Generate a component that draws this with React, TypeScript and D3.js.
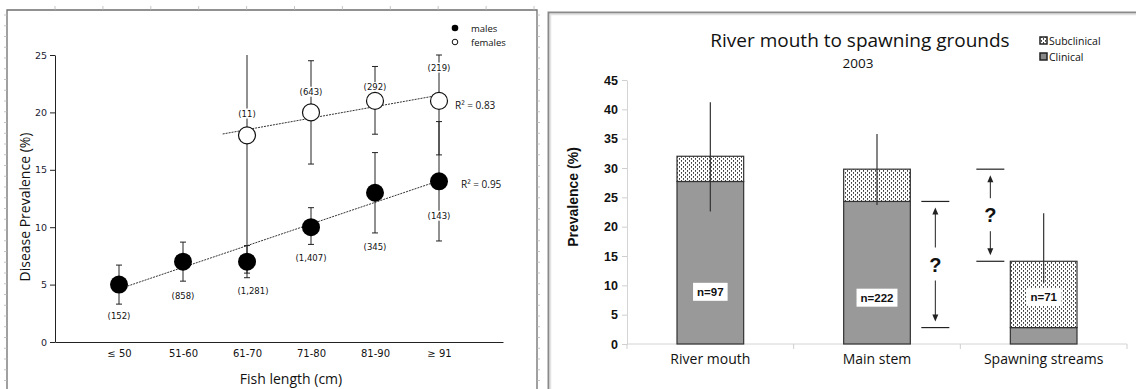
import React, { useRef, useEffect } from "react";
import * as d3 from "d3";

// left panel: disease prevalence by fish length
const lengthClasses = ["≤ 50", "51-60", "61-70", "71-80", "81-90", "≥ 91"];
const maleValues = [5, 7, 7, 10, 13, 14];
const maleLow = [3.3, 5.3, 5.6, 8.5, 9.5, 8.8];
const maleHigh = [6.7, 8.7, 8.4, 11.7, 16.5, 19.2];
const maleCounts = ["(152)", "(858)", "(1,281)", "(1,407)", "(345)", "(143)"];
const maleCountAt = [2.3, 4.0, 4.4, 7.3, 8.3, 11.0];

const femaleClasses = ["61-70", "71-80", "81-90", "≥ 91"];
const femaleValues = [18, 20, 21, 21];
const femaleLow = [6.0, 15.5, 18.1, 16.3];
const femaleHigh = [27, 24.5, 24.0, 25.0];
const femaleCounts = ["(11)", "(643)", "(292)", "(219)"];
const femaleCountAt = [19.9, 21.8, 22.2, 23.9];

const prevalenceTicks = [0, 5, 10, 15, 20, 25];

// right panel: river mouth to spawning grounds, 2003
const sites = ["River mouth", "Main stem", "Spawning streams"];
const clinical = [27.7, 24.3, 2.8];
const subclinical = [4.3, 5.5, 11.3];
const siteLow = [22.6, 23.7, 10.4];
const siteHigh = [41.2, 35.8, 22.3];
const siteN = ["n=97", "n=222", "n=71"];
const siteNAt = [8.9, 7.9, 8.0];
const siteTicks = [0, 5, 10, 15, 20, 25, 30, 35, 40, 45];

const sans = "'Open Sans', 'DejaVu Sans', sans-serif";
const small = "'DejaVu Sans', sans-serif";
const arial = "'Liberation Sans', Arial, sans-serif";

function fit(xs: number[], ys: number[]) {
  const mx = d3.mean(xs)!;
  const my = d3.mean(ys)!;
  const sxy = d3.sum(xs, (x, i) => (x - mx) * (ys[i] - my));
  const sxx = d3.sum(xs, (x) => (x - mx) ** 2);
  const b = sxy / sxx;
  return (x: number) => my + b * (x - mx);
}

// text with a white box behind it
function boxedText(g: any, x: number, y: number, label: string, font: string, size: number, weight: string, pad: number[]) {
  const grp = g.append("g");
  const rect = grp.append("rect").attr("fill", "#fff");
  const t = grp
    .append("text")
    .attr("x", x)
    .attr("y", y)
    .attr("dy", "0.35em")
    .attr("text-anchor", "middle")
    .attr("font-family", font)
    .attr("font-size", size)
    .attr("font-weight", weight)
    .attr("fill", "#111")
    .text(label);
  const bb = (t.node() as SVGTextElement).getBBox();
  rect
    .attr("x", bb.x - pad[0])
    .attr("y", bb.y - pad[1])
    .attr("width", bb.width + pad[0] * 2)
    .attr("height", bb.height + pad[1] * 2);
}

const App = () => {
  const ref = useRef<SVGSVGElement>(null);
  const width = 1136;
  const height = 389;

  useEffect(() => {
    const svg = d3.select(ref.current);
    svg.selectAll("*").remove();

    const defs = svg.append("defs");
    const pat = defs
      .append("pattern")
      .attr("id", "dots")
      .attr("patternUnits", "userSpaceOnUse")
      .attr("width", 4)
      .attr("height", 4);
    pat.append("rect").attr("width", 4).attr("height", 4).attr("fill", "#fff");
    pat.append("rect").attr("x", 1).attr("y", 0).attr("width", 0.8).attr("height", 1.8).attr("fill", "#111");
    pat.append("rect").attr("x", 3).attr("y", 2).attr("width", 0.8).attr("height", 1.8).attr("fill", "#111");

    // ---------- frames ----------
    svg
      .append("path")
      .attr("d", "M7,389V10H537V389")
      .attr("fill", "none")
      .attr("stroke", "#6e6e6e")
      .attr("stroke-width", 1.3);
    const ruler = svg.append("g").attr("stroke", "#b8b8b8").attr("stroke-width", 0.8);
    d3.range(15, 389, 10.75).forEach((y) => {
      ruler.append("line").attr("x1", 4).attr("x2", 7).attr("y1", y).attr("y2", y);
      ruler.append("line").attr("x1", 537).attr("x2", 540).attr("y1", y).attr("y2", y);
    });
    d3.range(55, 537, 47.9).forEach((x) => {
      ruler.append("line").attr("x1", x).attr("x2", x).attr("y1", 6).attr("y2", 10);
    });
    svg
      .append("path")
      .attr("d", "M548.5,389V12.5H1136")
      .attr("fill", "none")
      .attr("stroke", "#8a8a8a")
      .attr("stroke-width", 2);
    svg
      .append("path")
      .attr("d", "M550.5,389V14.5H1136")
      .attr("fill", "none")
      .attr("stroke", "#e2e2e2")
      .attr("stroke-width", 1.5);

    // ---------- left chart ----------
    const x = d3.scalePoint().domain(lengthClasses).range([55, 503]).padding(1);
    const y = d3.scaleLinear().domain([0, 25]).range([342, 55]);
    const L = svg.append("g");

    L.append("g")
      .attr("transform", "translate(55,0)")
      .call(d3.axisLeft(y).tickValues(prevalenceTicks).tickSize(5).tickSizeOuter(0).tickPadding(3))
      .call((g: any) => g.select(".domain").attr("stroke", "#222"))
      .call((g: any) => g.selectAll(".tick line").attr("stroke", "#222"))
      .call((g: any) =>
        g.selectAll("text").attr("font-family", small).attr("font-size", 9.5).attr("fill", "#223")
      );
    L.append("g")
      .attr("transform", "translate(0,342)")
      .call(d3.axisBottom(x).tickSize(0).tickSizeOuter(0).tickPadding(8))
      .call((g: any) => g.select(".domain").attr("stroke", "#222"))
      .call((g: any) =>
        g.selectAll("text").attr("font-family", small).attr("font-size", 10).attr("fill", "#111")
      );

    L.append("text")
      .attr("x", 291)
      .attr("y", 384)
      .attr("text-anchor", "middle")
      .attr("font-family", sans)
      .attr("font-size", 14)
      .attr("fill", "#111")
      .text("Fish length (cm)");
    L.append("text")
      .attr("transform", "translate(30,207) rotate(-90)")
      .attr("text-anchor", "middle")
      .attr("font-family", sans)
      .attr("font-size", 14)
      .attr("fill", "#111")
      .text("Disease Prevalence (%)");

    // trend lines
    const maleIdx = maleValues.map((_, i) => i);
    const femaleIdx = femaleClasses.map((c) => lengthClasses.indexOf(c));
    const mFit = fit(maleIdx, maleValues);
    const fFit = fit(femaleIdx, femaleValues);
    const step = x.step();
    const x0 = x(lengthClasses[0])!;
    const trend = (from: number, to: number, f: (v: number) => number) =>
      L.append("line")
        .attr("x1", x0 + from * step)
        .attr("x2", x0 + to * step)
        .attr("y1", y(f(from)))
        .attr("y2", y(f(to)))
        .attr("stroke", "#333")
        .attr("stroke-width", 1)
        .attr("stroke-dasharray", "2,1");
    trend(0, 5, mFit);
    trend(1.62, 5, fFit);

    // error bars
    const errBar = (cx: number, lo: number, hi: number) => {
      const top = Math.min(hi, 25);
      L.append("line")
        .attr("x1", cx)
        .attr("x2", cx)
        .attr("y1", y(lo))
        .attr("y2", y(top))
        .attr("stroke", "#222")
        .attr("stroke-width", 1);
      [lo, hi].forEach((v) => {
        if (v > 25) return;
        L.append("line")
          .attr("x1", cx - 3)
          .attr("x2", cx + 3)
          .attr("y1", y(v))
          .attr("y2", y(v))
          .attr("stroke", "#222")
          .attr("stroke-width", 1);
      });
    };
    femaleClasses.forEach((c, i) => errBar(x(c)!, femaleLow[i], femaleHigh[i]));
    lengthClasses.forEach((c, i) => errBar(x(c)!, maleLow[i], maleHigh[i]));

    // sample sizes
    lengthClasses.forEach((c, i) =>
      boxedText(L, x(c)! + (i === 2 ? 6 : 0), y(maleCountAt[i]), maleCounts[i], small, 8.5, "normal", [1, 0])
    );
    femaleClasses.forEach((c, i) =>
      boxedText(L, x(c)!, y(femaleCountAt[i]), femaleCounts[i], small, 8.5, "normal", [1, 0])
    );

    // points
    L.selectAll(".female")
      .data(femaleValues)
      .enter()
      .append("circle")
      .attr("cx", (d, i) => x(femaleClasses[i])!)
      .attr("cy", (d) => y(d))
      .attr("r", 8.5)
      .attr("fill", "#fff")
      .attr("stroke", "#111")
      .attr("stroke-width", 1.2);
    L.selectAll(".male")
      .data(maleValues)
      .enter()
      .append("circle")
      .attr("cx", (d, i) => x(lengthClasses[i])!)
      .attr("cy", (d) => y(d))
      .attr("r", 9)
      .attr("fill", "#000");

    const xl = x(lengthClasses[5])!;
    L.append("text")
      .attr("x", xl + 16)
      .attr("y", y(femaleValues[3]) + 8)
      .attr("font-family", sans)
      .attr("font-size", 10)
      .attr("fill", "#111")
      .text("R² = 0.83");
    L.append("text")
      .attr("x", xl + 22)
      .attr("y", y(maleValues[5]) + 7)
      .attr("font-family", sans)
      .attr("font-size", 10)
      .attr("fill", "#111")
      .text("R² = 0.95");

    // legend
    L.append("circle").attr("cx", 455).attr("cy", 28).attr("r", 3.3).attr("fill", "#000");
    L.append("circle").attr("cx", 455).attr("cy", 42).attr("r", 2.8).attr("fill", "#fff").attr("stroke", "#111");
    [["males", 28], ["females", 42]].forEach(([t, ly]) =>
      L.append("text")
        .attr("x", 471)
        .attr("y", (ly as number) + 3.5)
        .attr("font-family", sans)
        .attr("font-size", 9.5)
        .attr("fill", "#111")
        .text(t as string)
    );

    // ---------- right chart ----------
    const xb = d3.scaleBand().domain(sites).range([627, 1127]).paddingInner(0.6).paddingOuter(0.3);
    const yr = d3.scaleLinear().domain([0, 45]).range([344, 80]);
    const R = svg.append("g");

    R.append("text")
      .attr("x", 860)
      .attr("y", 47)
      .attr("text-anchor", "middle")
      .attr("font-family", sans)
      .attr("font-size", 19)
      .attr("fill", "#111")
      .text("River mouth to spawning grounds");
    R.append("text")
      .attr("x", 858)
      .attr("y", 68)
      .attr("text-anchor", "middle")
      .attr("font-family", sans)
      .attr("font-size", 13.5)
      .attr("fill", "#111")
      .text("2003");

    R.append("g")
      .attr("transform", "translate(627,0)")
      .call(d3.axisLeft(yr).tickValues(siteTicks).tickSize(5).tickSizeOuter(0).tickPadding(4))
      .call((g: any) => g.select(".domain").attr("stroke", "#d4d4d4"))
      .call((g: any) => g.selectAll(".tick line").attr("stroke", "#cfcfcf"))
      .call((g: any) =>
        g.selectAll("text").attr("font-family", arial).attr("font-size", 12.5).attr("font-weight", "bold").attr("fill", "#111")
      );
    R.append("line")
      .attr("x1", 627)
      .attr("x2", 1127)
      .attr("y1", 344)
      .attr("y2", 344)
      .attr("stroke", "#d4d4d4");
    const bounds = [627, ...sites.map((s) => xb(s)! + xb.bandwidth() + (xb.step() - xb.bandwidth()) / 2)];
    bounds.forEach((bx) =>
      R.append("line").attr("x1", bx).attr("x2", bx).attr("y1", 344).attr("y2", 349).attr("stroke", "#cfcfcf")
    );
    sites.forEach((s) =>
      R.append("text")
        .attr("x", xb(s)! + xb.bandwidth() / 2)
        .attr("y", 364)
        .attr("text-anchor", "middle")
        .attr("font-family", sans)
        .attr("font-size", 14)
        .attr("fill", "#111")
        .text(s)
    );
    R.append("text")
      .attr("transform", "translate(578,197) rotate(-90)")
      .attr("text-anchor", "middle")
      .attr("font-family", arial)
      .attr("font-size", 14)
      .attr("font-weight", "bold")
      .attr("fill", "#111")
      .text("Prevalence (%)");

    // stacked bars
    sites.forEach((s, i) => {
      const bx = xb(s)!;
      const bw = xb.bandwidth();
      R.append("rect")
        .attr("x", bx)
        .attr("y", yr(clinical[i]))
        .attr("width", bw)
        .attr("height", yr(0) - yr(clinical[i]))
        .attr("fill", "#999")
        .attr("stroke", "#333")
        .attr("stroke-width", 1.2);
      R.append("rect")
        .attr("x", bx)
        .attr("y", yr(clinical[i] + subclinical[i]))
        .attr("width", bw)
        .attr("height", yr(clinical[i]) - yr(clinical[i] + subclinical[i]))
        .attr("fill", "url(#dots)")
        .attr("stroke", "#333")
        .attr("stroke-width", 1.2);
      R.append("line")
        .attr("x1", bx + bw / 2)
        .attr("x2", bx + bw / 2)
        .attr("y1", yr(siteLow[i]))
        .attr("y2", yr(siteHigh[i]))
        .attr("stroke", "#333")
        .attr("stroke-width", 1.2);
      boxedText(R, bx + bw / 2, yr(siteNAt[i]), siteN[i], arial, 11.5, "bold", [4, 3]);
    });

    // "?" brackets between main stem and spawning streams
    const gapStart = xb(sites[1])! + xb.bandwidth();
    const gapEnd = xb(sites[2])!;
    const bracket = (bx: number, topV: number, botV: number) => {
      const t = yr(topV);
      const b = yr(botV);
      const mid = (t + b) / 2;
      const g = R.append("g").attr("stroke", "#222").attr("fill", "#222");
      g.append("line").attr("x1", bx - 14).attr("x2", bx + 14).attr("y1", t).attr("y2", t).attr("stroke-width", 1.2);
      g.append("line").attr("x1", bx - 14).attr("x2", bx + 14).attr("y1", b).attr("y2", b).attr("stroke-width", 1.2);
      const tipT = t + 6;
      const tipB = b - 6;
      g.append("line").attr("x1", bx).attr("x2", bx).attr("y1", tipT + 6).attr("y2", mid - 17).attr("stroke-width", 1);
      g.append("line").attr("x1", bx).attr("x2", bx).attr("y1", mid + 16).attr("y2", tipB - 6).attr("stroke-width", 1);
      g.append("path").attr("d", `M${bx},${tipT}l-3,7h6z`).attr("stroke", "none");
      g.append("path").attr("d", `M${bx},${tipB}l-3,-7h6z`).attr("stroke", "none");
      R.append("text")
        .attr("x", bx)
        .attr("y", mid)
        .attr("dy", "0.35em")
        .attr("text-anchor", "middle")
        .attr("font-family", arial)
        .attr("font-size", 20)
        .attr("font-weight", "bold")
        .attr("fill", "#111")
        .text("?");
    };
    bracket(gapStart + (gapEnd - gapStart) * 0.25, clinical[1], clinical[2]);
    bracket(
      gapStart + (gapEnd - gapStart) * 0.8,
      clinical[1] + subclinical[1],
      clinical[2] + subclinical[2]
    );

    // legend
    const legend = [
      ["Subclinical", "url(#dots)", 41],
      ["Clinical", "#888", 57],
    ];
    legend.forEach(([label, fill, ly]) => {
      R.append("rect")
        .attr("x", 1040)
        .attr("y", (ly as number) - 4)
        .attr("width", 7)
        .attr("height", 7)
        .attr("fill", fill as string)
        .attr("stroke", "#222")
        .attr("stroke-width", 1.5);
      R.append("text")
        .attr("x", 1049)
        .attr("y", (ly as number) + 3.5)
        .attr("font-family", sans)
        .attr("font-size", 10.5)
        .attr("fill", "#111")
        .text(label as string);
    });
  });

  return (
    <svg
      ref={ref}
      width={width}
      height={height}
      style={{ position: "absolute", left: 0, top: 0, background: "#fff" }}
    ></svg>
  );
};

export default App;
